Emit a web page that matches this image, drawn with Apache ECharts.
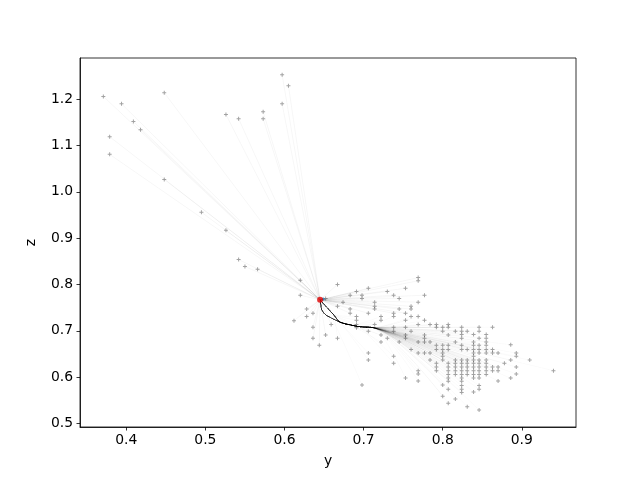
<!DOCTYPE html>
<html>
<head>
<meta charset="utf-8">
<script src="https://cdn.jsdelivr.net/npm/echarts@6/dist/echarts.min.js"></script>
<style>html,body{margin:0;padding:0;background:#fff}#c{width:640px;height:480px}</style>
</head>
<body>
<div id="c"></div>
<script>
// ---- data (y, z) ----
const yTicks = [0.4, 0.5, 0.6, 0.7, 0.8, 0.9];
const zTicks = [0.5, 0.6, 0.7, 0.8, 0.9, 1.0, 1.1, 1.2];

// scattered upper-left starting points
const upY = [0.371,0.394,0.448,0.409,0.418,0.379,0.379,0.448,0.597,0.605,0.597,0.526,0.542,0.573,0.573,0.495,0.526,0.542,0.550,0.566];
const upZ = [1.206,1.190,1.214,1.152,1.134,1.119,1.081,1.027,1.253,1.229,1.190,1.167,1.158,1.173,1.158,0.956,0.917,0.854,0.839,0.833];

// main cluster: y value of each column and the z values in it
const colY = [0.612,0.620,0.628,0.636,0.644,0.652,0.659,0.667,0.674,0.683,0.691,0.698,0.706,0.714,0.722,0.730,0.738,0.745,0.753,0.760,0.769,0.777,0.784,0.792,0.800,0.807,0.816,0.824,0.831,0.839,0.846,0.855,0.863,0.870,0.878,0.886,0.893,0.910,0.940];
const colZ = [
  [0.722],
  [0.809,0.777],
  [0.747,0.731],
  [0.738,0.708,0.684],
  [0.669],
  [0.770,0.691],
  [0.714],
  [0.800,0.753,0.684],
  [0.762],
  [0.777,0.747,0.738],
  [0.785,0.731,0.723,0.714,0.707],
  [0.777,0.770,0.583],
  [0.792,0.738,0.699,0.652,0.637],
  [0.762,0.753,0.747,0.714],
  [0.731,0.723,0.691,0.676],
  [0.785,0.684],
  [0.777,0.738,0.731,0.708,0.699,0.645,0.630],
  [0.770,0.747,0.676],
  [0.792,0.738,0.723,0.708,0.691,0.684,0.598],
  [0.753,0.747,0.731,0.699,0.660],
  [0.815,0.808,0.762,0.731,0.714,0.676,0.652,0.614,0.607,0.592],
  [0.777,0.723,0.691,0.684,0.676,0.652],
  [0.714,0.676,0.652,0.637],
  [0.714,0.708,0.669,0.660,0.630,0.622,0.614],
  [0.708,0.699,0.669,0.660,0.652,0.645,0.637,0.583,0.559],
  [0.714,0.708,0.691,0.669,0.660,0.630,0.622,0.614,0.606,0.598,0.591,0.574,0.544],
  [0.699,0.676,0.637,0.630,0.622,0.614,0.606,0.553],
  [0.708,0.699,0.692,0.684,0.669,0.660,0.637,0.630,0.622,0.614,0.606,0.598,0.591,0.582,0.574,0.567],
  [0.699,0.660,0.637,0.630,0.622,0.614,0.606,0.536],
  [0.692,0.676,0.669,0.660,0.652,0.645,0.637,0.630,0.622,0.614,0.606,0.598,0.568],
  [0.708,0.699,0.684,0.669,0.660,0.652,0.637,0.630,0.622,0.614,0.606,0.598,0.582,0.574,0.529],
  [0.692,0.684,0.676,0.669,0.660,0.652,0.637,0.630,0.622,0.614,0.606],
  [0.708,0.660,0.652,0.622,0.614],
  [0.652,0.622,0.614,0.592],
  [0.630],
  [0.670,0.637,0.598],
  [0.652,0.645,0.622,0.607],
  [0.637],
  [0.614]
];

// outer strand shared by the trajectories on their way into the fixed point
const trunkY = [0.712,0.695,0.683,0.670,0.660,0.651,0.647,0.646,0.645];
const trunkZ = [0.707,0.709,0.713,0.719,0.727,0.736,0.746,0.756,0.767];
// inner strand (leaves the outer one at y = 0.670)
const innerY = [0.662,0.654,0.648,0.645];
const innerZ = [0.735,0.750,0.761,0.767];

const fixedPoint = [0.645, 0.767];
const bluePoint = [0.649, 0.769];

// ---- build ----
const upPoints = upY.map((y, i) => [y, upZ[i]]);
const clusterPoints = [];
colY.forEach((y, i) => colZ[i].forEach(z => clusterPoints.push([y, z])));
const points = upPoints.concat(clusterPoints);

function trajectory(p) {
  const [y, z] = p;
  if (y < 0.66 || z > 0.735) return { path: [p, fixedPoint], direct: true };
  const useInner = z >= 0.645;
  const path = [p];
  for (let k = 0; k < trunkY.length; k++) {
    if (trunkY[k] >= y - 0.03) continue;
    if (useInner && trunkY[k] < 0.670) break;
    path.push([trunkY[k], trunkZ[k]]);
  }
  if (useInner) innerY.forEach((iy, k) => path.push([iy, innerZ[k]]));
  if (path.length === 1) path.push(fixedPoint);
  return { path, direct: false };
}

const lineSeries = points.map(p => {
  const t = trajectory(p);
  return {
    type: 'line',
    data: t.path,
    smooth: 0.3,
    symbol: 'none',
    silent: true,
    animation: false,
    z: 1,
    lineStyle: { color: t.direct ? 'rgba(0,0,0,0.045)' : 'rgba(0,0,0,0.022)', width: 0.9 }
  };
});

const plus = 'path://M3,0H5V3H8V5H5V8H3V5H0V3H3Z';
const font = 'DejaVu Sans';

const chart = echarts.init(document.getElementById('c'), null, { renderer: 'canvas' });
chart.setOption({
  animation: false,
  backgroundColor: '#fff',
  grid: { left: 80, right: 64, top: 58, bottom: 53, show: true, borderColor: '#000', borderWidth: 0.8, containLabel: false },
  xAxis: {
    type: 'value', min: 0.3415, max: 0.9685,
    name: 'y', nameLocation: 'middle', nameGap: 27,
    nameTextStyle: { fontFamily: font, fontSize: 13.9, color: '#000' },
    axisLine: { show: true, onZero: false, lineStyle: { color: '#000', width: 0.8 } },
    axisTick: { show: true, length: 3.5, lineStyle: { color: '#000', width: 0.8 }, customValues: yTicks },
    axisLabel: { customValues: yTicks, formatter: v => v.toFixed(1), margin: 6, color: '#000', fontFamily: font, fontSize: 13.9 },
    splitLine: { show: false }
  },
  yAxis: {
    type: 'value', min: 0.4925, max: 1.289,
    name: 'z', nameLocation: 'middle', nameGap: 42,
    nameTextStyle: { fontFamily: font, fontSize: 13.9, color: '#000' },
    axisLine: { show: true, onZero: false, lineStyle: { color: '#000', width: 0.8 } },
    axisTick: { show: true, length: 3.5, lineStyle: { color: '#000', width: 0.8 }, customValues: zTicks },
    axisLabel: { customValues: zTicks, formatter: v => v.toFixed(1), margin: 7, color: '#000', fontFamily: font, fontSize: 13.9 },
    splitLine: { show: false }
  },
  series: lineSeries.concat([
    {
      type: 'scatter', data: points, symbol: plus, symbolSize: 4, silent: true, z: 3,
      itemStyle: { color: 'rgba(0,0,0,0.45)' }
    },
    {
      type: 'scatter', data: [bluePoint], symbol: 'circle', symbolSize: 3, silent: true, z: 4,
      itemStyle: { color: '#1f77b4' }
    },
    {
      type: 'scatter', data: [fixedPoint], symbol: 'circle', symbolSize: 6, silent: true, z: 5,
      itemStyle: { color: '#e00000' }
    }
  ])
});
</script>
</body>
</html>
